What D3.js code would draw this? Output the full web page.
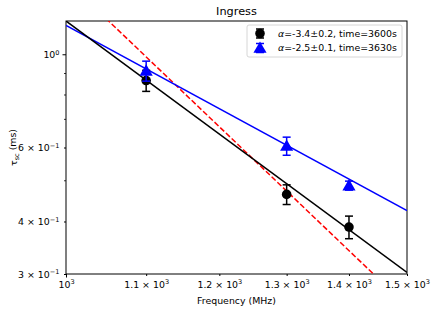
<!DOCTYPE html>
<html>
<head>
<meta charset="utf-8">
<script src="https://cdn.jsdelivr.net/npm/d3@7"></script>
<style>
  body { margin: 0; background: #fff; }
  svg, svg text { font-family: "DejaVu Sans", sans-serif; }
</style>
</head>
<body>
<div id="d3"></div>
<script>
// measured points
const freqs = [1100, 1300, 1400];
const tauBlack = [0.866, 0.464, 0.388];
const errBlack = [0.05, 0.025, 0.024];
const tauBlue = [0.913, 0.605, 0.487];
const errBlue = [0.05, 0.03, 0.012];

// fit lines, endpoints at 1000 and 1500 MHz
const fitFreqs = [1000, 1500];
const fitBlack = [1.2, 0.3027];
const fitBlue = [1.172, 0.4248];
const fitRed = [1.5, 0.2517];

const xTicks = [1000, 1100, 1200, 1300, 1400, 1500];
const xTickMant = ["", "1.1", "1.2", "1.3", "1.4", "1.5"];
const yTicks = [0.3, 0.4, 0.6, 1.0];
const yTickMant = ["3", "4", "6", ""];
const yTickExp = ["\u22121", "\u22121", "\u22121", "0"];
const yMinor = [0.5, 0.7, 0.8, 0.9];

const legendLabels = ["\u03b1=-3.4\u00b10.2, time=3600s", "\u03b1=-2.5\u00b10.1, time=3630s"];

const width = 436, height = 312;
const margin = { top: 21, right: 29, bottom: 38, left: 66 };
const w = width - margin.left - margin.right;
const h = height - margin.top - margin.bottom;
const fs = 9.4;
const font = "DejaVu Sans";

const svg = d3.select("#d3").append("svg")
  .attr("width", width).attr("height", height);

const g = svg.append("g")
  .attr("transform", `translate(${margin.left},${margin.top})`);

const x = d3.scaleLog().domain([1000, 1500]).range([0, w]);
const y = d3.scaleLog().domain([0.3, 1.2]).range([h, 0]);

svg.append("defs").append("clipPath").attr("id", "clip")
  .append("rect").attr("width", w).attr("height", h);

// axes
const xAxis = g.append("g").attr("transform", `translate(0,${h})`)
  .call(d3.axisBottom(x).tickValues(xTicks).tickSize(3).tickPadding(3.5).tickFormat(""))
  .attr("font-family", font);
xAxis.selectAll(".tick line").attr("y2", (d) => d === 1000 ? 3.5 : 2);
xAxis.selectAll(".tick text").each(function (d, i) {
  const t = d3.select(this).attr("font-size", fs).attr("fill", "#000").attr("dy", "0.76em");
  if (xTickMant[i]) t.append("tspan").text(xTickMant[i] + " \u00d7 10");
  else t.append("tspan").text("10");
  t.append("tspan").attr("font-size", fs * 0.7).attr("dy", "-0.55em").text("3");
});

const yAxis = g.append("g")
  .call(d3.axisLeft(y).tickValues(yTicks).tickSize(3).tickPadding(3.5).tickFormat(""))
  .attr("font-family", font);
yAxis.selectAll(".tick line").attr("x2", (d) => d === 1.0 ? -3.5 : -2);
yAxis.selectAll(".tick text").each(function (d, i) {
  const t = d3.select(this).attr("font-size", fs).attr("fill", "#000").attr("dy", "0.36em");
  if (yTickMant[i]) t.append("tspan").text(yTickMant[i] + " \u00d7 10");
  else t.append("tspan").text("10");
  t.append("tspan").attr("font-size", fs * 0.7).attr("dy", "-0.55em").text(yTickExp[i]);
});
g.selectAll(".minor").data(yMinor).enter().append("line")
  .attr("x1", 0).attr("x2", -2)
  .attr("y1", (d) => y(d)).attr("y2", (d) => y(d))
  .attr("stroke", "#000").attr("stroke-width", 0.8);

g.selectAll(".domain").remove();
g.append("rect").attr("width", w).attr("height", h)
  .attr("fill", "none").attr("stroke", "#000").attr("stroke-width", 1);

// labels
svg.append("text").attr("x", margin.left + w / 2).attr("y", 14.5)
  .attr("text-anchor", "middle").attr("font-size", 11.3).text("Ingress");
svg.append("text").attr("x", margin.left + w / 2).attr("y", 303.5)
  .attr("text-anchor", "middle").attr("font-size", fs).text("Frequency (MHz)");
const yl = svg.append("text")
  .attr("transform", `translate(17,${margin.top + h / 2}) rotate(-90)`)
  .attr("text-anchor", "middle").attr("font-size", fs);
yl.append("tspan").text("\u03c4");
yl.append("tspan").attr("font-size", fs * 0.7).attr("dy", "0.3em").text("sc");
yl.append("tspan").attr("dy", "-0.3em").text(" (ms)");

// fit lines
const line = d3.line().x((d) => x(d[0])).y((d) => y(d[1]));
const plot = g.append("g").attr("clip-path", "url(#clip)");
const fits = [
  { vals: fitRed, color: "red", dash: "5.5,2.4" },
  { vals: fitBlue, color: "blue", dash: null },
  { vals: fitBlack, color: "black", dash: null }
];
fits.forEach((f) => {
  plot.append("path")
    .datum(fitFreqs.map((fr, i) => [fr, f.vals[i]]))
    .attr("d", line).attr("fill", "none")
    .attr("stroke", f.color).attr("stroke-width", 1.5)
    .attr("stroke-dasharray", f.dash);
});

// error bars + markers
const tri = d3.symbol().type(d3.symbolTriangle).size(75);
function errorbars(vals, errs, color, marker) {
  const pts = freqs.map((fr, i) => ({ f: fr, v: vals[i], e: errs[i] }));
  const eg = g.append("g");
  pts.forEach((p) => {
    const cx = x(p.f);
    eg.append("line").attr("x1", cx).attr("x2", cx)
      .attr("y1", y(p.v - p.e)).attr("y2", y(p.v + p.e))
      .attr("stroke", color).attr("stroke-width", 1.5);
    [p.v - p.e, p.v + p.e].forEach((v) => {
      eg.append("line").attr("x1", cx - 4).attr("x2", cx + 4)
        .attr("y1", y(v)).attr("y2", y(v))
        .attr("stroke", color).attr("stroke-width", 1.5);
    });
    if (marker === "circle") {
      eg.append("circle").attr("cx", cx).attr("cy", y(p.v)).attr("r", 4.8).attr("fill", color);
    } else {
      eg.append("path").attr("d", tri)
        .attr("transform", `translate(${cx},${y(p.v) + 1})`).attr("fill", color);
    }
  });
}
errorbars(tauBlack, errBlack, "black", "circle");
errorbars(tauBlue, errBlue, "blue", "triangle");

// legend
const lg = svg.append("g").attr("transform", "translate(247,25)");
lg.append("rect").attr("width", 155).attr("height", 32).attr("rx", 2)
  .attr("fill", "#fff").attr("fill-opacity", 0.8)
  .attr("stroke", "#ccc").attr("stroke-width", 0.8);
legendLabels.forEach((lab, i) => {
  const cy = 8.5 + i * 14.5;
  const color = i === 0 ? "black" : "blue";
  lg.append("line").attr("x1", 13).attr("x2", 13).attr("y1", cy - 4.5).attr("y2", cy + 4.5)
    .attr("stroke", color).attr("stroke-width", 1.5);
  [cy - 4.5, cy + 4.5].forEach((yy) => lg.append("line")
    .attr("x1", 9).attr("x2", 17).attr("y1", yy).attr("y2", yy)
    .attr("stroke", color).attr("stroke-width", 1.5));
  if (i === 0) lg.append("circle").attr("cx", 13).attr("cy", cy).attr("r", 4.8).attr("fill", color);
  else lg.append("path").attr("d", tri).attr("transform", `translate(13,${cy + 1})`).attr("fill", color);
  const t = lg.append("text").attr("x", 31).attr("y", cy + 3.4).attr("font-size", fs);
  t.append("tspan").attr("font-style", "italic").text(lab[0]);
  t.append("tspan").text(lab.slice(1));
});
</script>
</body>
</html>
